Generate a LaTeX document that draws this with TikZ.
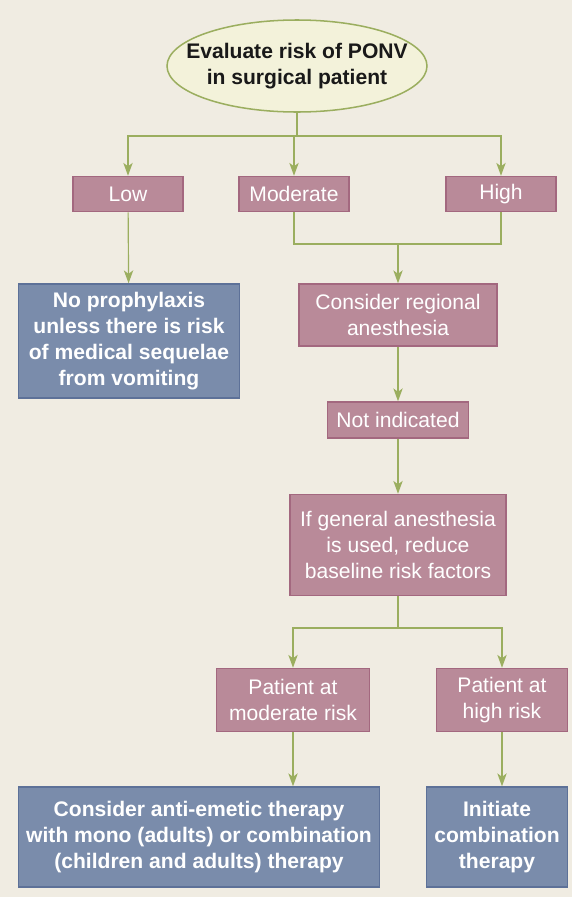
\documentclass[tikz,border=0pt]{standalone}
\usepackage{fontspec}
\setmainfont{Liberation Sans}
\usetikzlibrary{positioning, shapes.geometric, arrows.meta}
\definecolor{bgbeige}{HTML}{F0ECE2}
\definecolor{riskfill}{HTML}{B98A99}
\definecolor{riskdraw}{HTML}{A3687F}
\definecolor{actfill}{HTML}{7A8CAB}
\definecolor{actdraw}{HTML}{5D7198}
\definecolor{pathgreen}{HTML}{9BAE5F}
\definecolor{evalfill}{HTML}{F3F2DA}

\begin{document}
\begin{tikzpicture}[
  x=0.3mm, y=-0.3mm,
  font=\fontsize{18}{22}\selectfont,
  >={Stealth[length=11pt, width=8pt, inset=3pt]},
  ln/.style={draw=pathgreen, line width=1pt},
  arr/.style={ln, ->},
  riskbox/.style={draw=riskdraw, line width=1.3pt, fill=riskfill, text=white,
                  align=center, inner sep=0pt},
  actbox/.style={draw=actdraw, line width=1.3pt, fill=actfill, text=white,
                 align=center, inner sep=0pt, font=\fontsize{18}{22}\selectfont\bfseries},
  startnode/.style={ellipse, draw=pathgreen, line width=1.3pt, fill=evalfill,
                    text=black!90, align=center, inner sep=0pt,
                    font=\fontsize{18}{22}\selectfont\bfseries},
]

\path[fill=bgbeige, use as bounding box] (0,0) rectangle (572,897);

%% ===== TOP: RISK ASSESSMENT =====

\node[startnode, minimum width=7.8cm, minimum height=2.76cm] (eval) at (297,66)
    {\makebox[0pt]{Evaluate risk of PONV}\\\makebox[0pt]{in surgical patient}};

\node[riskbox, minimum width=3.3cm, minimum height=1.05cm] (low) at (128,194) {Low};
\node[riskbox, minimum width=3.3cm, minimum height=1.05cm] (moderate) at (294,194) {Moderate};
\node[riskbox, minimum width=3.3cm, minimum height=1.05cm] (high) at (501,194) {High};

\node[actbox, minimum width=6.63cm, minimum height=3.42cm] (noproph) at (129,341)
    {No prophylaxis\\unless there is risk\\of medical sequelae\\from vomiting};

%% ===== MIDDLE: ANESTHESIA CHOICE =====

\node[riskbox, minimum width=5.94cm, minimum height=1.86cm] (regional) at (398,315)
    {Consider regional\\anesthesia};

\node[riskbox, minimum width=4.23cm, minimum height=1.08cm] (notind) at (398,420)
    {Not indicated};

\node[riskbox, minimum width=6.48cm, minimum height=3.03cm] (general) at (398,545)
    {If general anesthesia\\is used, reduce\\baseline risk factors};

%% ===== BOTTOM: THERAPY =====

\node[riskbox, minimum width=4.59cm, minimum height=1.89cm] (patmod) at (293,700)
    {Patient at\\moderate risk};
\node[riskbox, minimum width=3.93cm, minimum height=1.89cm] (pathigh) at (502,700)
    {Patient at\\high risk};

\node[actbox, minimum width=10.83cm, minimum height=3.0cm] (antiemetic) at (199,837)
    {Consider anti-emetic therapy\\with mono (adults) or combination\\(children and adults) therapy};
\node[actbox, minimum width=4.23cm, minimum height=3.0cm] (initiate) at (497,837)
    {Initiate\\combination\\therapy};

%% ===== ARROWS =====

\coordinate (split1) at (moderate.north |- 0,136);
\coordinate (merge) at (regional.north |- 0,244);
\coordinate (split2) at (general.south |- 0,628);

\draw[ln]  (eval.south) -- (eval.south |- split1);
\draw[ln]  (low.north |- split1) -- (high.north |- split1);
\draw[arr] (split1) -| (low.north);
\draw[arr] (split1) -- (moderate.north);
\draw[arr] (split1) -| (high.north);
\draw[arr] (low) -- (noproph);

\draw[ln]  (moderate.south) |- (merge);
\draw[ln]  (high.south) |- (merge);
\draw[arr] (merge) -- (regional.north);
\draw[arr] (regional) -- (notind);
\draw[arr] (notind) -- (general);

\draw[ln]  (general.south) -- (split2);
\draw[arr] (split2) -| (patmod.north);
\draw[arr] (split2) -| (pathigh.north);
\draw[arr] (patmod.south) -- (patmod.south |- antiemetic.north);
\draw[arr] (pathigh.south) -- (pathigh.south |- initiate.north);

\end{tikzpicture}
\end{document}
